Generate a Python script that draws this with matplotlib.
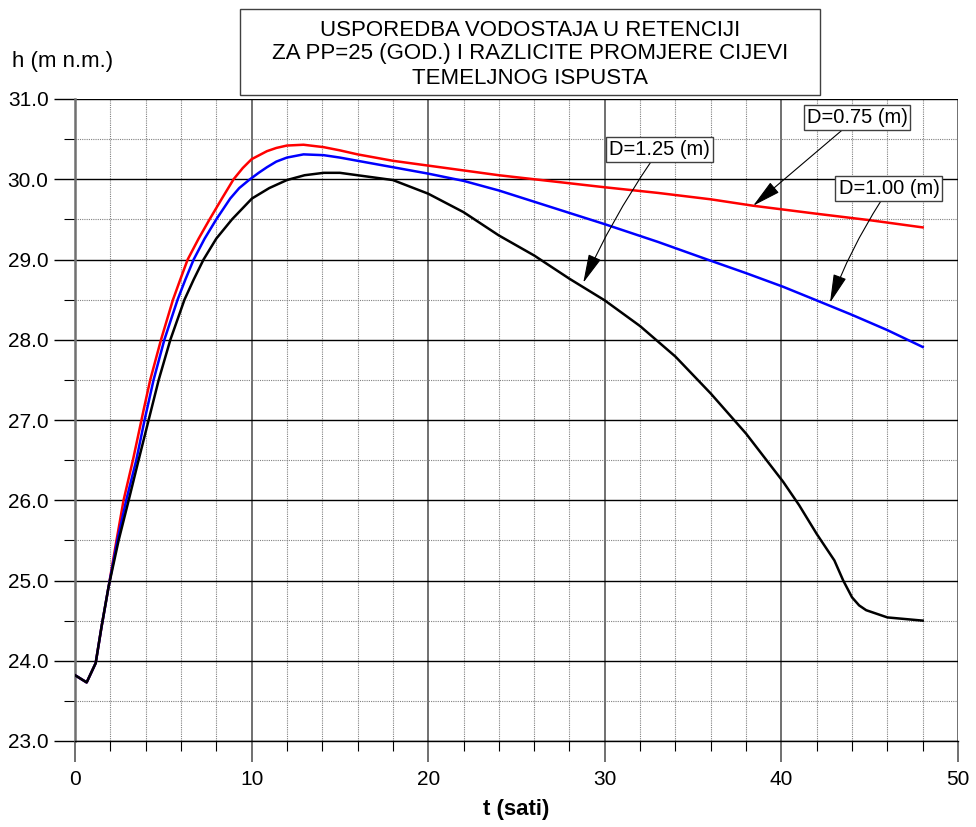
import matplotlib
matplotlib.use('Agg')
import matplotlib.pyplot as plt
from matplotlib.patches import Rectangle
from matplotlib.ticker import MultipleLocator, FormatStrFormatter

plt.rcParams['font.family'] = ['Liberation Sans', 'DejaVu Sans']

# vodostaj u retenciji, h (m n.m.) vs t (sati)
t_075 = [0, 0.66, 1.17, 1.5, 1.9, 2.35, 2.75, 3.28, 3.89, 4.26, 4.87, 5.55, 5.96, 6.38, 7.0, 7.62, 8.32, 8.98,
         9.5, 10.0, 10.87, 11.4, 12.0, 12.94, 14.08, 15.0, 16, 18, 20, 22, 24, 26, 28, 30, 33, 36, 38.4, 42, 45, 48]
h_075 = [23.82, 23.73, 23.97, 24.42, 24.92, 25.5, 26.0, 26.5, 27.13, 27.5, 28.0, 28.5, 28.75, 29.0, 29.26, 29.5, 29.76, 30.0,
         30.14, 30.25, 30.35, 30.39, 30.42, 30.43, 30.40, 30.36, 30.31, 30.23, 30.17, 30.11, 30.05, 30.0, 29.95, 29.9, 29.83, 29.75, 29.67, 29.57, 29.49, 29.40]

t_100 = [0, 0.66, 1.17, 1.5, 1.9, 2.4, 2.9, 3.47, 3.94, 4.45, 5.06, 5.81, 6.25, 6.72, 7.34, 8.0, 8.79, 9.3,
         9.85, 10.4, 10.87, 11.4, 12.0, 12.94, 14.08, 15.0, 16, 18, 20, 22, 24, 26, 28, 30, 33, 35.8, 38, 40.1, 42, 44, 46, 48]
h_100 = [23.82, 23.73, 23.97, 24.42, 24.92, 25.5, 26.0, 26.5, 27.0, 27.5, 28.0, 28.5, 28.75, 29.0, 29.26, 29.5, 29.76, 29.89,
         29.99, 30.08, 30.15, 30.22, 30.27, 30.31, 30.30, 30.27, 30.23, 30.15, 30.07, 29.98, 29.86, 29.72, 29.58, 29.44, 29.22, 29.0, 28.83, 28.66, 28.49, 28.31, 28.12, 27.91]

t_125 = [0, 0.66, 1.17, 1.5, 1.9, 2.47, 3.04, 3.6, 4.17, 4.74, 5.4, 6.2, 6.72, 7.28, 8.0, 8.89, 10.02, 11.0, 12.0, 13.0,
         14.08, 15.0, 16, 18, 20, 22, 24, 26, 28, 30, 32, 34, 35, 36, 38, 40.1, 41, 42, 43, 43.5, 44, 44.4, 44.8, 46, 48]
h_125 = [23.82, 23.73, 23.97, 24.42, 24.92, 25.5, 26.0, 26.5, 27.0, 27.5, 28.0, 28.5, 28.75, 29.0, 29.26, 29.5, 29.76, 29.89, 29.99, 30.05,
         30.08, 30.08, 30.05, 29.99, 29.82, 29.59, 29.3, 29.05, 28.76, 28.49, 28.17, 27.79, 27.56, 27.33, 26.83, 26.23, 25.94, 25.58, 25.25, 25.0, 24.79, 24.69, 24.63, 24.54, 24.5]

labels = ['D=0.75 (m)', 'D=1.00 (m)', 'D=1.25 (m)']
label_pos = [(44.28, 30.77), (46.09, 29.88), (33.1, 30.37)]
arrow_tip = [(38.4, 29.67), (42.75, 28.46), (28.78, 28.71)]

title_lines = ['USPOREDBA VODOSTAJA U RETENCIJI',
               'ZA PP=25 (GOD.) I RAZLICITE PROMJERE CIJEVI',
               'TEMELJNOG ISPUSTA']

fig = plt.figure(figsize=(9.76, 8.27), dpi=100)
ax = fig.add_axes([75 / 976, 1 - 741 / 827, 883 / 976, 642 / 827])

ax.plot(t_075, h_075, color='#ff0000', lw=1.8, zorder=3)
ax.plot(t_100, h_100, color='#0000ff', lw=1.8, zorder=3)
ax.plot(t_125, h_125, color='black', lw=1.8, zorder=3)

ax.set_xlim(0, 50)
ax.set_ylim(23, 31)
ax.xaxis.set_major_locator(MultipleLocator(10))
ax.xaxis.set_minor_locator(MultipleLocator(2))
ax.yaxis.set_major_locator(MultipleLocator(1))
ax.yaxis.set_minor_locator(MultipleLocator(0.5))
ax.yaxis.set_major_formatter(FormatStrFormatter('%.1f'))

ax.xaxis.grid(True, which='major', color='#707070', lw=1.4)
ax.xaxis.grid(True, which='minor', color='#808080', lw=0.8, ls=(0, (1, 1)))
ax.yaxis.grid(True, which='major', color='black', lw=1.0)
ax.yaxis.grid(True, which='minor', color='#808080', lw=0.8, ls=(0, (1, 1)))
ax.set_axisbelow(True)

for s in ['top', 'right']:
    ax.spines[s].set_visible(False)
ax.spines['left'].set_color('#707070')
ax.spines['left'].set_linewidth(1.8)
ax.spines['bottom'].set_linewidth(1.0)

ax.tick_params(axis='x', which='major', length=15, width=1.4, color='#707070', pad=6, labelsize=15)
ax.tick_params(axis='x', which='minor', length=7, width=0.8)
ax.tick_params(axis='y', which='major', length=15, width=1.0, pad=4, labelsize=15)
ax.tick_params(axis='y', which='minor', length=8, width=0.8)

fig.text(516 / 976, 1 - 810 / 827, 't (sati)', fontsize=16, fontweight='bold', ha='center', va='center')
fig.text(12 / 976, 1 - 62 / 827, 'h (m n.m.)', fontsize=16, ha='left', va='center')

# okvir naslova
fig.patches.append(Rectangle((240 / 976, 1 - 95 / 827), 580 / 976, 86 / 827,
                             transform=fig.transFigure, fill=False, ec='#404040', lw=1.0))
for i, line in enumerate(title_lines):
    fig.text(530 / 976, 1 - (30 + 24 * i) / 827, line, fontsize=16, ha='center', va='center')

rads = [0.0, 0.06, 0.05]
for lab, pos, tip, rad in zip(labels, label_pos, arrow_tip, rads):
    ax.annotate(lab, xy=tip, xytext=pos, fontsize=14.5, ha='center', va='center', zorder=5,
                bbox=dict(boxstyle='square,pad=0.15', fc='white', ec='#404040', lw=1.0),
                arrowprops=dict(arrowstyle='-|>,head_length=1.5,head_width=0.35', color='black',
                                lw=0.8, mutation_scale=12, shrinkA=0, shrinkB=0,
                                connectionstyle='arc3,rad=%s' % rad))

plt.savefig('out.png', dpi=100)
